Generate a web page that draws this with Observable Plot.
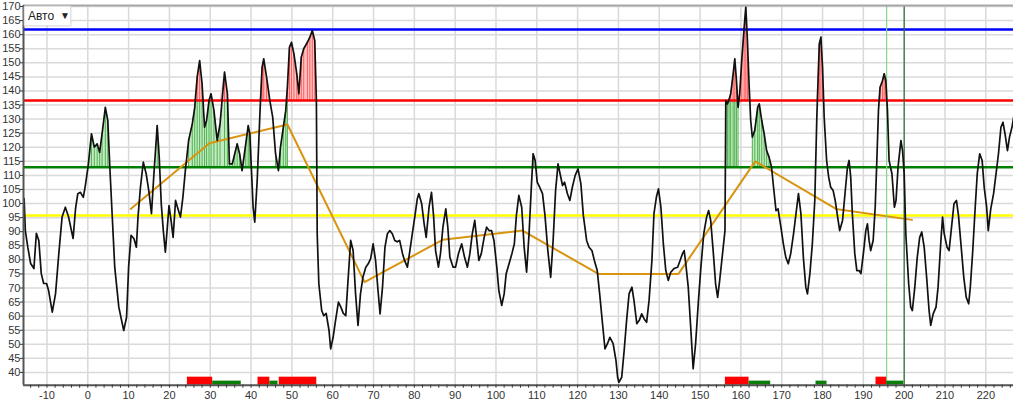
<!DOCTYPE html>
<html><head><meta charset="utf-8">
<script src="https://cdn.jsdelivr.net/npm/d3@7"></script>
<script src="https://cdn.jsdelivr.net/npm/@observablehq/plot@0.6"></script>
<style>
body{margin:0;background:#fff;font-family:"Liberation Sans",Arial,sans-serif;}
#wrap{position:relative;width:1024px;height:420px;overflow:hidden;}
#dd{position:absolute;left:24px;top:6px;width:45px;height:18px;background:#fff;border:1px solid #e2e2e2;box-shadow:0 0 2px #d0d0d0;font-size:12px;color:#222;}
</style></head><body>
<div id="wrap"><div id="chart"></div>
<div id="dd"><span style="position:absolute;left:3px;top:2px;">Авто</span><span style="position:absolute;left:35px;top:3px;font-size:10px;">▼</span></div></div>
<script>
// main series (x position, value)
const lineX = [-15.6,-15.3,-14.7,-14.0,-13.2,-12.6,-12.0,-11.4,-10.8,-10.1,-9.6,-8.7,-7.9,-7.1,-6.3,-5.5,-4.7,-3.6,-3.0,-2.45,-1.8,-1.1,-0.6,0.1,0.9,1.6,2.3,2.9,3.5,4.3,4.9,5.4,6.0,6.6,7.6,8.8,9.5,10.0,10.6,11.3,11.9,12.3,12.9,13.6,14.3,15.0,15.6,16.2,17.0,17.5,18.0,18.5,19.0,19.9,20.4,20.9,21.5,22.1,22.7,23.3,23.9,24.7,25.6,26.2,26.8,27.4,28.0,28.6,29.1,29.7,30.2,30.9,31.7,32.4,33.5,34.2,34.7,35.4,36.0,36.6,37.2,37.8,38.7,39.3,39.7,40.1,40.5,40.9,41.5,42.2,42.7,43.1,43.8,44.6,45.3,46.0,46.7,47.2,47.9,48.5,48.9,49.4,49.9,50.5,51.2,51.7,52.3,52.9,53.8,54.4,55.0,55.6,56.0,56.2,56.6,57.3,57.8,58.4,59.1,59.5,60.1,60.7,61.4,62.0,62.6,63.2,63.7,64.4,65.0,65.6,66.2,66.8,67.4,68.1,68.7,69.3,69.9,70.5,71.1,71.6,72.2,72.8,73.4,74.0,74.6,75.2,75.8,76.4,77.1,77.6,78.3,78.8,79.5,80.1,80.7,81.1,81.8,82.4,82.9,83.6,84.2,84.7,85.2,85.9,86.4,87.0,87.7,88.2,88.7,89.5,90.1,90.8,91.6,92.3,93.0,93.6,94.2,94.8,95.3,95.8,96.4,97.1,97.7,98.3,98.9,99.5,100.2,100.7,101.4,102.0,102.5,103.2,103.9,104.5,105.0,105.6,106.3,106.9,107.5,108.1,108.7,109.1,109.6,110.1,110.7,111.4,112.0,112.7,113.4,114.0,114.6,115.2,115.7,116.3,116.8,117.5,118.1,118.7,119.4,120.1,120.8,121.4,122.2,122.8,123.5,124.1,124.8,125.4,126.1,126.7,127.3,127.9,128.7,129.4,129.8,130.1,130.8,131.4,132.0,132.6,133.3,133.8,134.5,135.1,135.7,136.3,136.9,137.5,138.2,138.7,139.3,139.8,140.4,141.0,141.6,142.2,142.8,143.6,144.5,145.1,145.7,146.1,146.5,147.1,147.7,148.3,148.9,149.6,150.2,150.9,151.6,152.1,152.6,153.2,153.8,154.3,154.8,155.5,156.1,156.3,156.7,157.1,157.5,158.1,158.5,158.9,159.3,159.7,160.2,160.8,161.2,161.6,162.0,162.4,162.8,163.4,164.1,164.5,165.1,165.7,166.3,166.9,167.5,168.0,168.6,169.1,169.8,170.4,171.0,171.6,172.2,172.9,173.5,174.1,174.7,175.3,175.9,176.3,176.9,177.5,178.1,178.6,179.2,179.6,180.0,180.4,181.0,181.5,182.0,182.6,183.1,183.7,184.2,184.9,185.5,186.1,186.5,186.9,187.3,187.9,188.4,189.0,189.4,190.0,190.6,191.0,191.4,191.8,192.4,192.9,193.3,193.7,194.1,194.7,195.1,195.5,195.9,196.3,197.0,197.6,198.0,198.5,199.2,199.6,200.0,200.4,201.1,201.6,202.0,202.6,203.2,203.8,204.3,204.9,205.5,206.1,206.5,207.1,207.8,208.3,209.0,209.4,209.8,210.5,211.0,211.6,212.2,212.8,213.3,213.9,214.6,215.2,215.8,216.2,216.8,217.4,217.9,218.5,219.1,219.6,220.2,220.6,221.2,221.9,222.4,223.1,223.7,224.2,224.7,225.3,225.8,226.4,227.1];
const lineY = [101.8,90.4,84.5,78.7,76.9,89.4,86.9,75.1,71.6,71.6,69.1,61.4,68,82.2,95.2,98.7,95.2,87.6,98.2,103.5,104,102.2,106.4,113.5,124.8,120,121.2,118.2,124.8,134.2,129.5,112.9,95.2,77.4,63.2,54.9,59.6,77.4,88.7,87.6,84.5,95.2,105.8,114.7,110.6,104,96.4,110.6,127.7,116.5,99.9,90.4,82.7,99.3,94,88,101.1,98.1,95.2,102.3,111.7,122.4,128.3,134.2,144.9,150.8,142.5,127.1,129.5,136.6,139,133.1,122.4,128.3,146.7,139,114.1,114.1,117.7,121.2,117.7,111.7,121.2,127.7,124.8,111.7,98.7,93.4,108.2,133.1,148.4,151.4,144.9,136.6,130.7,117.7,111.7,120,127.1,133.1,141.3,155.5,157.3,153.2,146.1,139,152,155,157.3,159.1,161.5,157.9,136.6,89.3,71.5,62,60.2,61,54.9,48.4,52.5,58.5,65,63.2,61,60.2,71.5,86.9,83.3,67.9,56.7,67.9,73.8,77.4,78.6,80.4,85.7,79.8,69.1,60.8,70.3,84.5,89.3,90.4,89.3,86.9,86.4,86.9,82.2,79.8,77.4,82.2,89.3,95.2,101.5,103.5,99.9,92.8,88,98.7,104,95.8,83.3,77.4,82.2,91.6,98.1,91.6,80.9,77.4,77.4,82.2,85.7,80.9,77.4,82.2,89.3,94,86.9,79.8,82.2,88,91.6,90.4,90.4,86.9,77.4,69.1,63.8,67.9,75.1,78.6,82.2,85.7,95.8,102.9,98.7,84.5,75.6,89.3,107,117.7,115.3,107.6,105.8,103.5,95.8,83.3,73.8,86.9,104.6,114.1,110.6,106.4,107.6,103.5,101.1,105.8,110,112.3,107,95.8,86.9,84.5,83.3,79.8,76.2,67.9,57.3,48.4,50.2,52.5,50.2,44.2,38.3,36.5,38.3,47.8,58.5,67.9,70.3,65.6,57.3,58.5,60.8,59,57.8,65.6,79.8,96.4,102.3,105.2,98.7,85.7,76.2,72.7,75.6,76.9,77.4,79.8,82.2,83.3,78.6,70.3,56.1,41.3,50.2,65.6,77.4,89.3,95.2,97.5,94,83.3,71.5,66.7,72.7,82.2,90.4,136.6,135.4,137,139,146.1,151.4,144,134.2,139,150.8,162.6,169.8,157.9,142.5,129.5,123.6,126,134.2,135.4,129.5,124.8,118.8,116.5,113,105.8,97.5,98.1,91.6,85.7,80.9,78.6,82.2,89.3,96.4,103.5,96.4,80.9,70.3,67.9,75.1,85.7,101.1,130.7,156.7,159.1,148.4,130.7,115.3,109.4,105.8,104.6,101.1,95.2,90.4,94,103.5,112.9,115.3,109.4,96.4,82.2,76.2,76.2,75.1,82.2,90.4,92.8,86.9,83.3,86.9,98.7,115.3,133.1,141.3,143.7,146.1,143.7,133.1,115.3,110.6,98.7,101.1,113,122.4,118.8,110.6,89.3,71.5,63.2,62,70.3,80.9,88,89.9,84.5,73.8,62,56.7,60.8,63.2,70.3,86.9,95.2,89.3,84.5,83.3,91.6,99.9,101.1,95.8,85.7,73.8,66.7,64.4,70.3,83.3,98.7,110.6,117.7,115.3,105.8,98.7,90.4,98,103.5,109.4,117.7,127.1,128.9,124.8,118.8,123.6,127.1,133.1];

// horizontal levels
const levelValues = [161.8, 136.6, 112.9, 95.8];
const levelColors = ["#0000ff", "#ff0000", "#008000", "#ffff00"];

// trend (orange) line vertices
const trendX = [10.5, 29.8, 48.9, 67.8, 86.9, 106.5, 125.1, 144.7, 163.5, 183.3, 201.9];
const trendY = [98.1, 121.4, 128.1, 72.1, 87.1, 90.4, 75.0, 75.0, 115.0, 98.1, 94.2];

// x ranges with green hatched fill
const greenZoneStart = [-0.2, 16.3, 24.0, 45.6, 108.9, 156.2, 162.5];
const greenZoneEnd   = [5.5, 17.7, 40.2, 49.0, 109.6, 159.5, 168.0];

// bottom signal bars
const barStart = [24.4, 30.6, 41.7, 44.6, 46.9, 156.2, 162.0, 178.4, 193.1, 195.7];
const barEnd   = [30.6, 37.6, 44.6, 46.6, 56.1, 162.0, 167.3, 181.1, 195.7, 199.9];
const barKind  = ["sell", "buy", "sell", "buy", "sell", "sell", "buy", "buy", "sell", "buy"];

// vertical marker lines
const markerX = [195.7, 200.0];
const markerColor = ["#86d486", "#2f6a2f"];

const xTicks = d3.range(-10, 221, 10);
const xMinor = d3.range(-14, 227, 2);
const yTicks = d3.range(40, 171, 5);

const xDomain = [-15.75, 226.78];
const yDomain = [35.47, 170.36];

const pts = lineX.map((x, i) => ({x, y: lineY[i]}));
const redLvl = levelValues[1], greenLvl = levelValues[2];
const greenPts = [];
greenZoneStart.forEach((s, z) => {
  pts.filter(d => d.x >= s && d.x <= greenZoneEnd[z]).forEach(d =>
    greenPts.push({x: d.x, z, g: Math.max(greenLvl, Math.min(d.y, redLvl))}));
});
const redPts = pts.map(d => ({x: d.x, r: Math.max(d.y, redLvl)}));
const levels = levelValues.map((v, i) => ({v, c: levelColors[i]}));
const trend = trendX.map((x, i) => ({x, y: trendY[i]}));
const bars = barStart.map((s, i) => ({s, e: barEnd[i], k: barKind[i]}));
const markers = markerX.map((x, i) => ({x, c: markerColor[i]}));
const y0 = yDomain[0];

const chart = Plot.plot({
  width: 1024, height: 420,
  marginLeft: 23, marginRight: 11, marginTop: 5, marginBottom: 35.3,
  style: {fontFamily: "'Liberation Sans', Arial, sans-serif", fontSize: "11px", background: "#fff"},
  x: {domain: xDomain, axis: null},
  y: {domain: yDomain, axis: null},
  marks: [
    Plot.gridX(xTicks, {stroke: "#d9d9d9", strokeOpacity: 1, strokeWidth: 1.5}),
    Plot.gridY(yTicks, {stroke: "#dadada", strokeOpacity: 1, strokeWidth: 1.5}),
    Plot.areaY(greenPts, {x: "x", y1: () => greenLvl, y2: "g", z: "z", fill: "#c4eac4"}),
    Plot.ruleX(greenPts.filter(d => d.g > greenLvl), {x: "x", y1: () => greenLvl, y2: "g", stroke: "#4fb24f", strokeWidth: 1}),
    Plot.areaY(redPts, {x: "x", y1: () => redLvl, y2: "r", fill: "#ffc2c2"}),
    Plot.ruleX(redPts.filter(d => d.r > redLvl), {x: "x", y1: () => redLvl, y2: "r", stroke: "#ff5b5b", strokeWidth: 1}),
    Plot.ruleY(levels, {y: "v", stroke: "c", strokeWidth: 2.5}),
    Plot.line(trend, {x: "x", y: "y", stroke: "#d8940e", strokeWidth: 2}),
    Plot.ruleX(markers, {x: "x", stroke: "c", strokeWidth: 1.2}),
    Plot.line(pts, {x: "x", y: "y", stroke: "#111", strokeWidth: 1.7, clip: true}),
    Plot.rect(bars, {x1: "s", x2: "e", y1: () => y0, y2: d => y0 + (d.k === "sell" ? 2.85 : 1.45), fill: d => d.k === "sell" ? "#ff0000" : "#0a7d0a"}),
    Plot.ruleY([yDomain[1]], {stroke: "#a8a8a8", strokeWidth: 2}),
    Plot.ruleY([y0], {stroke: "#555", strokeWidth: 2}),
    Plot.ruleX([xDomain[0]], {stroke: "#555", strokeWidth: 2}),
    Plot.axisY(yTicks, {anchor: "left", tickSize: 3, tickPadding: 0, label: null, color: "#333", fontSize: 11}),
    Plot.axisX(xMinor, {anchor: "bottom", tickSize: 3, tickPadding: 3, label: null, color: "#333", fontSize: 11,
      tickFormat: d => d % 10 === 0 ? String(d) : ""})
  ]
});
document.getElementById("chart").appendChild(chart);
</script></body></html>
